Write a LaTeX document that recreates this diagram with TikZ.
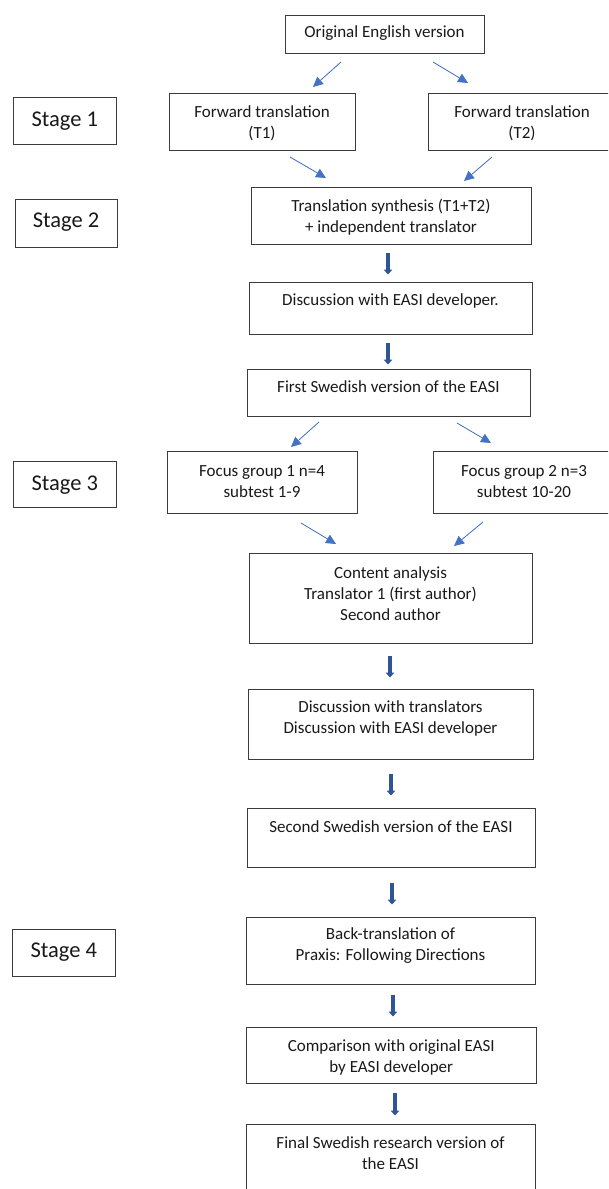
\documentclass[tikz,border=0pt]{standalone}
\usepackage{fontspec}
\setmainfont{Carlito}
\usetikzlibrary{arrows.meta}
\definecolor{thinblue}{RGB}{68,114,196}
\definecolor{thickblue}{RGB}{47,85,151}
\definecolor{boxline}{RGB}{60,60,60}
\definecolor{txtcol}{RGB}{25,25,25}
\begin{document}
\begin{tikzpicture}[x=1pt,y=-1pt,
  box/.style={draw=boxline, line width=1pt, rectangle, inner sep=0pt},
  txt/.style={align=center, text=txtcol, inner sep=0pt, font=\fontsize{17}{21}\selectfont},
  stagetxt/.style={text=txtcol, inner sep=0pt, font=\fontsize{22.5}{27}\selectfont},
  thinarrow/.style={draw=thinblue, line width=0.8pt, -{Triangle[length=10pt,width=9.5pt]}, fill=thinblue},
  bigarrow/.style={draw=thickblue, line width=3.2pt, -{Triangle[length=5pt,width=8.5pt]}}
]
\useasboundingbox (0,0) rectangle (608,1189);
\clip (0,0) rectangle (608,1189);

% boxes
\node[box, minimum width=199pt, minimum height=38pt] (orig) at (384.5,34) {};
\node[txt] (origt) at (384.5,33) {Original English version};

\node[box, minimum width=102.5pt, minimum height=47pt] (st1) at (64.75,120.5) {};
\node[stagetxt] (st1t) at (64.75,121) {Stage 1};

\node[box, minimum width=186pt, minimum height=57pt] (t1) at (262,121.5) {};
\node[txt] (t1t) at (262,123.5) {Forward translation\\(T1)};

\node[box, minimum width=186pt, minimum height=57pt] (t2) at (521,121.5) {};
\node[txt] (t2t) at (522,123.5) {Forward translation\\(T2)};

\node[box, minimum width=102pt, minimum height=48pt] (st2) at (66,223) {};
\node[stagetxt] (st2t) at (66,222) {Stage 2};

\node[box, minimum width=280pt, minimum height=57pt] (synth) at (391,215.5) {};
\node[txt] (syntht) at (391,217) {Translation synthesis (T1+T2)\\+ independent translator};

\node[box, minimum width=283pt, minimum height=52pt] (disc1) at (390.5,308) {};
\node[txt] (disc1t) at (390.5,301) {Discussion with EASI developer.};

\node[box, minimum width=283pt, minimum height=47pt] (first) at (388.5,392.5) {};
\node[txt] (firstt) at (388.5,387) {First Swedish version of the EASI};

\node[box, minimum width=102.5pt, minimum height=46pt] (st3) at (64.75,484) {};
\node[stagetxt] (st3t) at (64.75,485) {Stage 3};

\node[box, minimum width=190pt, minimum height=62pt] (fg1) at (262,482) {};
\node[txt] (fg1t) at (262,481.5) {Focus group 1 n=4\\subtest 1-9};

\node[box, minimum width=182pt, minimum height=62pt] (fg2) at (524,482) {};
\node[txt] (fg2t) at (524,481.5) {Focus group 2 n=3\\subtest 10-20};

\node[box, minimum width=283pt, minimum height=90pt] (content) at (390.5,598) {};
\node[txt] (contentt) at (390.5,594) {Content analysis\\Translator 1 (first author)\\Second author};

\node[box, minimum width=285pt, minimum height=70pt] (disc2) at (390.5,724) {};
\node[txt] (disc2t) at (390.5,718.5) {Discussion with translators\\Discussion with EASI developer};

\node[box, minimum width=288pt, minimum height=59pt] (second) at (391,837.5) {};
\node[txt] (secondt) at (391,827) {Second Swedish version of the EASI};

\node[box, minimum width=103.5pt, minimum height=47pt] (st4) at (63.75,952.5) {};
\node[stagetxt] (st4t) at (63.75,952) {Stage 4};

\node[box, minimum width=289pt, minimum height=67pt] (back) at (390.5,950.5) {};
\node[txt] (backt) at (390.5,946) {Back-translation of\\Praxis: Following Directions};

\node[box, minimum width=289.5pt, minimum height=56pt] (comp) at (391.25,1055) {};
\node[txt] (compt) at (391.25,1057.5) {Comparison with original EASI\\by EASI developer};

\node[box, minimum width=289pt, minimum height=80pt] (final) at (390.5,1164) {};
\node[txt] (finalt) at (390.5,1153) {Final Swedish research version of\\the EASI};

% thin arrow end points
\coordinate (a1s) at (341,62);  \coordinate (a1e) at (313,87);
\coordinate (a2s) at (433,62);  \coordinate (a2e) at (468,83);
\coordinate (a3s) at (290,157); \coordinate (a3e) at (326,178);
\coordinate (a4s) at (492,157); \coordinate (a4e) at (464,181);
\coordinate (a5s) at (319,422); \coordinate (a5e) at (291,447);
\coordinate (a6s) at (457,423); \coordinate (a6e) at (491,443);
\coordinate (a7s) at (301,523); \coordinate (a7e) at (336,544);
\coordinate (a8s) at (483,522); \coordinate (a8e) at (454,546);
\foreach \i in {1,...,8} {\draw[thinarrow] (a\i s) -- (a\i e);}

% thick arrows
\draw[bigarrow, shorten <=8pt, shorten >=7pt] ([xshift=-3pt]synth.south) -- ([xshift=-2.5pt]disc1.north);
\draw[bigarrow, shorten <=8pt, shorten >=4pt] ([xshift=-2.5pt]disc1.south) -- ([xshift=-0.5pt]first.north);
\draw[bigarrow, shorten <=12pt, shorten >=11pt] ([xshift=-0.5pt]content.south) -- ([xshift=-0.5pt]disc2.north);
\draw[bigarrow, shorten <=14pt, shorten >=12pt] ([xshift=0.5pt]disc2.south) -- (second.north);
\draw[bigarrow, shorten <=15pt, shorten >=12pt] ([xshift=1pt]second.south) -- ([xshift=1.5pt]back.north);
\draw[bigarrow, shorten <=10pt, shorten >=10pt] ([xshift=2.5pt]back.south) -- ([xshift=1.75pt]comp.north);
\draw[bigarrow, shorten <=9pt, shorten >=8pt] ([xshift=3.75pt]comp.south) -- ([xshift=4.5pt]final.north);
\end{tikzpicture}
\end{document}
